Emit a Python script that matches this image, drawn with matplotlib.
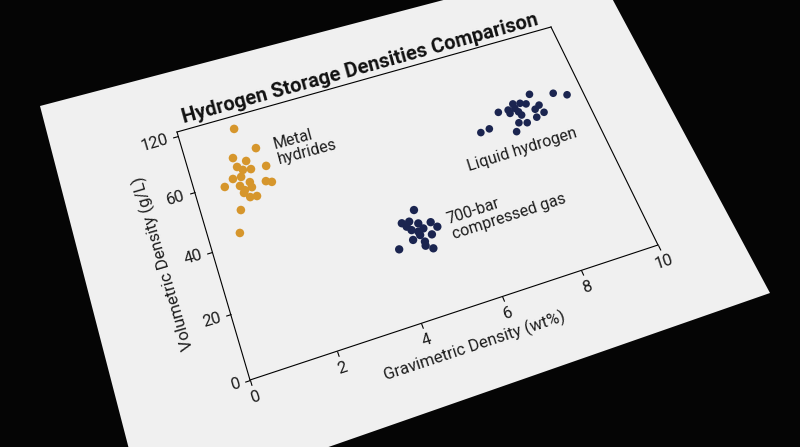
import numpy as np
import matplotlib
matplotlib.use("Agg")
import matplotlib.pyplot as plt
from matplotlib.patches import Polygon
from matplotlib.transforms import Transform
import mpl_toolkits.axisartist.floating_axes as floating_axes
from mpl_toolkits.axisartist.grid_finder import FixedLocator, DictFormatter

plt.rcParams["font.family"] = ["Roboto", "DejaVu Sans"]

metal_x = [1.34, 1.70, 1.10, 1.38, 1.13, 1.43, 1.80, 1.24, 0.95, 1.15, 1.31,
           1.68, 1.81, 0.71, 1.06, 1.14, 1.32, 1.10, 1.21, 1.37, 0.91, 0.73]
metal_y = [77.1, 68.6, 67.5, 65.3, 64.2, 62.2, 61.8, 62.7, 60.7, 60.6, 58.1,
           56.9, 56.1, 58.9, 57.8, 56.0, 56.3, 55.2, 53.3, 53.0, 50.1, 43.1]

liquid_x = [8.67, 9.26, 9.58, 8.16, 8.34, 8.48, 8.78, 7.72, 7.99, 8.21, 8.25,
            8.64, 8.82, 8.59, 8.10, 8.30, 7.95, 7.33, 7.09, 7.98, 8.16]
liquid_y = [60.0, 58.0, 56.1, 58.4, 57.9, 57.1, 55.4, 57.0, 55.5, 55.2, 53.8,
            54.4, 52.5, 51.6, 51.5, 50.7, 48.8, 52.4, 52.0, 56.8, 56.7]

gas_x = [4.80, 4.41, 4.59, 4.78, 5.07, 5.18, 4.57, 4.71, 4.85, 4.99, 4.52,
         4.77, 4.75, 4.90, 4.13, 4.72, 4.49]
gas_y = [33.8, 30.9, 30.7, 29.3, 28.5, 26.5, 27.9, 26.8, 27.3, 24.7, 24.8,
         23.2, 21.9, 20.4, 23.3, 25.6, 29.4]

x_ticks = [0, 2, 4, 6, 8, 10]
y_ticks = [0, 20, 40, 60, 80]
y_tick_labels = ["0", "20", "40", "60", "120"]

W, H = 800, 447
X_MAX, Y_MAX = 10, 81.5

# where the plot box and the card sit in the photo (pixels, y from the top)
box_px = [(250, 380), (658, 245), (551, 27), (177, 132)]
card_px = [(40, 106), (592, -39), (770, 293), (145, 511)]

ORANGE = "#d6962c"
NAVY = "#1b2550"
INK = "#1c1c1c"


def homography(src, dst):
    rows, rhs = [], []
    for (x, y), (u, v) in zip(src, dst):
        rows.append([x, y, 1, 0, 0, 0, -u * x, -u * y])
        rows.append([0, 0, 0, x, y, 1, -v * x, -v * y])
        rhs += [u, v]
    h = np.linalg.solve(np.array(rows, float), np.array(rhs, float))
    return np.append(h, 1).reshape(3, 3)


class Perspective(Transform):
    """data -> pixel mapping of the tilted card"""
    input_dims = output_dims = 2
    is_separable = False
    has_inverse = True

    def __init__(self, m):
        super().__init__()
        self.m = m

    def transform_non_affine(self, values):
        v = np.asarray(values, float).reshape(-1, 2)
        p = np.column_stack([v, np.ones(len(v))]) @ self.m.T
        return p[:, :2] / p[:, 2:]

    def inverted(self):
        return Perspective(np.linalg.inv(self.m))


fig = plt.figure(figsize=(W / 100, H / 100), dpi=100, facecolor="#050505")

bg = fig.add_axes([0, 0, 1, 1])
bg.set_xlim(0, W)
bg.set_ylim(H, 0)
bg.axis("off")
bg.add_patch(Polygon(card_px, closed=True, facecolor="#f0f0f0", edgecolor="none"))

corners = [(0, 0), (X_MAX, 0), (X_MAX, Y_MAX), (0, Y_MAX)]
tr = Perspective(homography(corners, [(u, H - v) for u, v in box_px]))

helper = floating_axes.GridHelperCurveLinear(
    tr, extremes=(0, X_MAX, 0, Y_MAX),
    grid_locator1=FixedLocator(x_ticks),
    grid_locator2=FixedLocator(y_ticks),
    tick_formatter1=DictFormatter({t: str(t) for t in x_ticks}),
    tick_formatter2=DictFormatter(dict(zip(y_ticks, y_tick_labels))))

ax = fig.add_axes([0, 0, 1, 1], axes_class=floating_axes.FloatingAxes,
                  grid_helper=helper)
ax.set_aspect("auto")
ax.set_xlim(0, W)
ax.set_ylim(0, H)
ax.patch.set_facecolor("none")

# tick labels already follow the tilted axes, no extra rotation needed
for side in ["bottom", "left"]:
    a = ax.axis[side]
    a.major_ticks.set_tick_out(True)
    a.major_ticks.set_ticksize(4)
    a.major_ticklabels.set_fontsize(12)
    a.major_ticklabels.set_color(INK)
    a.label.set_fontsize(12)
    a.label.set_color(INK)
for side in ["top", "right"]:
    ax.axis[side].major_ticks.set_visible(False)

ax.axis["bottom"].label.set_text("Gravimetric Density (wt%)")
ax.axis["left"].label.set_text("Volumetric Density (g/L)")
ax.axis["left"].label.set_pad(2)

aux = ax.get_aux_axes(tr)
aux.scatter(metal_x, metal_y, s=38, color=ORANGE, edgecolors="none")
aux.scatter(liquid_x, liquid_y, s=30, color=NAVY, edgecolors="none")
aux.scatter(gas_x, gas_y, s=36, color=NAVY, edgecolors="none")

aux.text(2.13, 65.4, "Metal\nhydrides", fontsize=11.5, color=INK, rotation=15,
         rotation_mode="anchor", ha="left", va="center", linespacing=1.1)
aux.text(7.88, 42.3, "Liquid hydrogen", fontsize=11.5, color=INK, rotation=17.5,
         rotation_mode="anchor", ha="center", va="center")
aux.text(5.46, 25.2, "700-bar\ncompressed gas", fontsize=11.5, color=INK,
         rotation=18, rotation_mode="anchor", ha="left", va="center",
         linespacing=1.1)
aux.text(4.83, 85.9, "Hydrogen Storage Densities Comparison", fontsize=14.5,
         fontweight="bold", color="#111111", rotation=15.5,
         rotation_mode="anchor", ha="center", va="center")

fig.savefig("out.png", dpi=100, facecolor=fig.get_facecolor())
